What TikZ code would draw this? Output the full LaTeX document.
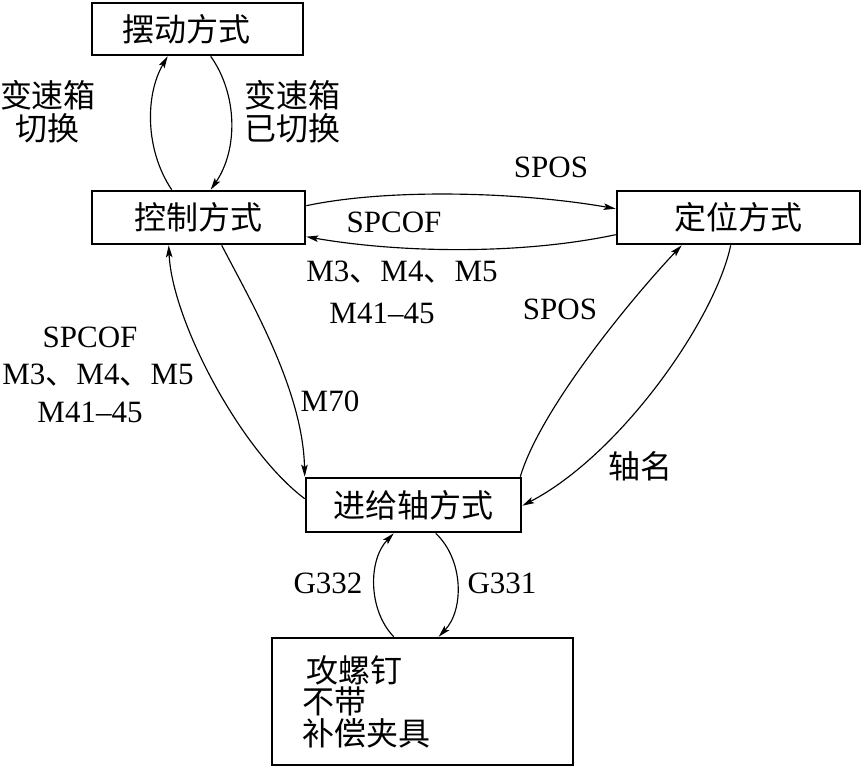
\documentclass[tikz,border=0pt]{standalone}
\usepackage{fontspec}
\setmainfont{Liberation Serif}
\newfontfamily\cjk{Noto Sans CJK SC}
\usetikzlibrary{arrows.meta,calc}
\begin{document}
\begin{tikzpicture}[x=1pt,y=-1pt,
  box/.style={draw,line width=2.6pt,inner sep=0pt,font=\cjk\fontsize{32}{33}\selectfont},
  conn/.style={line width=1.15pt,-{Stealth[length=12pt,width=6.5pt,inset=2.5pt]}},
  lab/.style={inner sep=0pt,font=\fontsize{31}{32}\selectfont,align=center},
  clab/.style={inner sep=0pt,font=\cjk\fontsize{32}{33}\selectfont,align=center}]
\useasboundingbox (0,0) rectangle (865,768);
% boxes
\node[box,minimum width=211pt,minimum height=52pt] (sw) at (197.5,29) {摆动方式\hspace*{22pt}};
\node[box,minimum width=213pt,minimum height=53pt] (kz) at (198.5,217.5) {控制方式};
\node[box,minimum width=243pt,minimum height=53pt] (dw) at (738.5,217.5) {定位方式};
\node[box,minimum width=215pt,minimum height=54pt] (jg) at (413.5,505) {进给轴方式};
\node[box,text width=241pt,inner xsep=30pt,minimum height=127pt,align=left,
      font=\cjk\fontsize{32}{31.5}\selectfont] (gl) at (422.5,701.5)
      {\hspace*{4pt}攻螺钉\\不带\\补偿夹具};
% connectors
\draw[conn] ($(kz.north west)+(81,0)$) .. controls (145,150) and (145,95) .. ($(sw.south west)+(77,0)$);
\draw[conn] ($(sw.south west)+(120,0)$) .. controls (238,95) and (238,150) .. ($(kz.north west)+(120,0)$);
\draw[conn] ($(kz.north east)+(0,16)$) .. controls (390,188) and (520,192) .. ($(dw.north west)+(0,19)$);
\draw[conn] ($(dw.north west)+(0,45)$) .. controls (520,255) and (400,253) .. ($(kz.north east)+(0,47)$);
\draw[conn] ($(jg.north west)+(0,22)$) .. controls (240,450) and (172,320) .. ($(kz.south west)+(78,0)$);
\draw[conn] ($(kz.south west)+(131,0)$) .. controls (250,300) and (303,390) .. (jg.north west);
\draw[conn] ($(jg.north east)+(-2,0)$) .. controls (540,410) and (630,300) .. ($(dw.south west)+(66,0)$);
\draw[conn] ($(dw.south west)+(115,0)$) .. controls (715,320) and (620,455) .. ($(jg.north east)+(0,29)$);
\draw[conn] ($(gl.north west)+(123,0)$) .. controls (368,610) and (368,560) .. ($(jg.south west)+(89,0)$);
\draw[conn] ($(jg.south west)+(131,0)$) .. controls (464,560) and (464,610) .. ($(gl.north west)+(168,0)$);
% labels
\node[clab] (l1) at (48,112) {变速箱\\切换};
\node[clab] (l2) at (292,112) {变速箱\\已切换};
\node[lab] (l3) at (551,167) {SPOS};
\node[lab] (l4) at (394,222) {SPCOF};
\node[lab] (l5) at (402,272) {M3{\cjk 、}M4{\cjk 、}M5};
\node[lab] (l6) at (382,313) {M41–45};
\node[lab] (l7) at (560,309) {SPOS};
\node[lab] (l8) at (330,401) {M70};
\node[lab] (l9) at (90,337) {SPCOF};
\node[lab] (l10) at (98,375) {M3{\cjk 、}M4{\cjk 、}M5};
\node[lab] (l11) at (90,412) {M41–45};
\node[clab] (l12) at (640,466) {轴名};
\node[lab] (l13) at (328,583) {G332};
\node[lab] (l14) at (502,583) {G331};
\end{tikzpicture}
\end{document}
